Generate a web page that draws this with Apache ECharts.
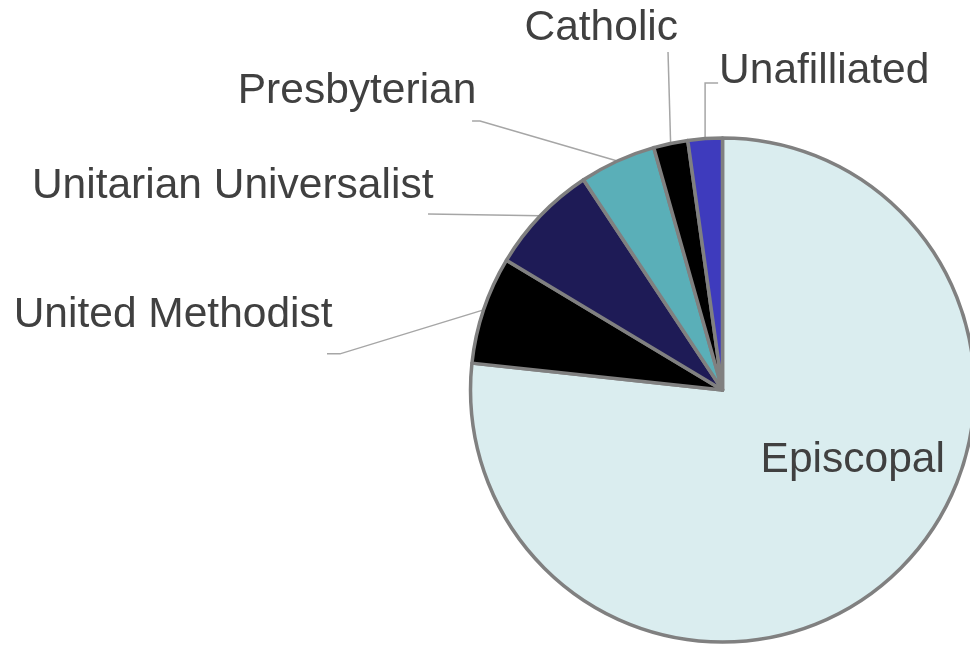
<!DOCTYPE html>
<html>
<head>
<meta charset="utf-8">
<script src="https://cdn.jsdelivr.net/npm/echarts@6/dist/echarts.min.js"></script>
<style>
  html, body { margin: 0; padding: 0; background: #ffffff; }
  #chart { width: 970px; height: 647px; }
</style>
</head>
<body>
<div id="chart"></div>
<script>
// Religious affiliation shares (percent of total)
const categories = ['Episcopal', 'United Methodist', 'Unitarian Universalist', 'Presbyterian', 'Catholic', 'Unafilliated'];
const shares = [76.7, 6.9, 7.1, 4.9, 2.2, 2.2];
const sliceColors = ['#daedef', '#000000', '#1e1b56', '#5aafb8', '#000000', '#3e3bbd'];

const PIE_CENTER = [722.5, 390];
const PIE_RADIUS = 252;

// Callout placement for the outside labels, as offsets from the point where
// each slice's mid-angle meets the rim. `text` is the label anchor, `line`
// the bends of the leader line after the rim point.
const callouts = [
  null,
  { text: [-151, 5],    align: 'right', line: [[-143.6, 44], [-156.6, 44]] },
  { text: [-107, -29],  align: 'right', line: [[-112.4, -1.8]] },
  { text: [-141, -69.5], align: 'right', line: [[-137.3, -40], [-145.3, -40]] },
  { text: [7.4, -115],  align: 'right', line: [[-2.6, -91.4]] },
  { text: [14, -67.6],  align: 'left',  line: [[0, -55.6], [13, -55.6]] }
];

// Rim point at the middle of a slice (fallback if the series does not expose it)
function rimPoint(i) {
  const total = shares.reduce((s, v) => s + v, 0);
  let before = 0;
  for (let k = 0; k < i; k++) before += shares[k];
  const theta = (before + shares[i] / 2) / total * Math.PI * 2;
  return [PIE_CENTER[0] + PIE_RADIUS * Math.sin(theta), PIE_CENTER[1] - PIE_RADIUS * Math.cos(theta)];
}

const seriesData = categories.map((name, i) => {
  const item = { name: name, value: shares[i], itemStyle: { color: sliceColors[i] } };
  if (i === 0) {
    item.label = { position: 'inside', rotate: 0 };
    item.labelLine = { show: false };
  }
  return item;
});

const chart = echarts.init(document.getElementById('chart'), null, { renderer: 'canvas' });
chart.setOption({
  animation: false,
  backgroundColor: '#ffffff',
  series: [{
    type: 'pie',
    center: PIE_CENTER,
    radius: PIE_RADIUS,
    startAngle: 90,
    clockwise: true,
    avoidLabelOverlap: false,
    silent: true,
    data: seriesData,
    itemStyle: { borderColor: '#808080', borderWidth: 3.5 },
    label: {
      show: true,
      position: 'outside',
      formatter: '{b}',
      color: '#404040',
      fontFamily: '"Liberation Sans", Arial, sans-serif',
      fontSize: 42.5
    },
    labelLine: {
      show: true,
      length: 10,
      length2: 10,
      lineStyle: { color: '#a6a6a6', width: 1.5 }
    },
    labelLayout: function (p) {
      const c = callouts[p.dataIndex];
      if (!c) return { dx: 44, dy: -26 };
      const a = (p.labelLinePoints && p.labelLinePoints[0]) || rimPoint(p.dataIndex);
      return {
        x: a[0] + c.text[0],
        y: a[1] + c.text[1],
        align: c.align,
        verticalAlign: 'middle',
        labelLinePoints: [[a[0], a[1]]].concat(c.line.map(d => [a[0] + d[0], a[1] + d[1]]))
      };
    }
  }]
});
</script>
</body>
</html>
